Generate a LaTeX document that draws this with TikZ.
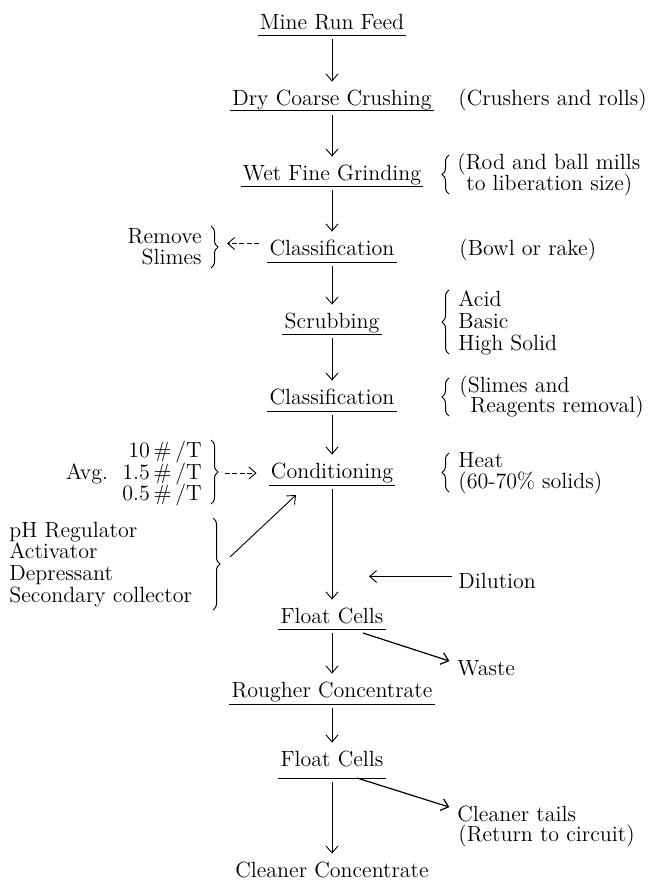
\documentclass[tikz,border=0pt]{standalone}
\usetikzlibrary{arrows.meta,decorations.pathreplacing}
\begin{document}
\begin{tikzpicture}[x=0.5pt,y=-0.5pt,
  every node/.style={font=\fontsize{11}{13}\selectfont, inner sep=0pt, text height=8pt, text depth=2.5pt},
  stage/.style={anchor=base},
  notel/.style={anchor=base west},
  noter/.style={anchor=base east},
  flow/.style={-{Straight Barb[length=3.5pt,width=6pt]}, line width=0.45pt},
  dflow/.style={flow, dash pattern=on 2.5pt off 1.2pt},
  ul/.style={line width=0.5pt},
  brc/.style={decorate, decoration={brace, amplitude=3.5pt}, line width=0.5pt},
]
\useasboundingbox (0,0) rectangle (652,884);

% main column
\node[stage] (s1) at (332,29) {Mine Run Feed};
\node[stage] (s2) at (332,105) {Dry Coarse Crushing};
\node[stage] (s3) at (332,180) {Wet Fine Grinding};
\node[stage] (s4) at (332,255) {Classification};
\node[stage] (s5) at (332,328) {Scrubbing};
\node[stage] (s6) at (332,404) {Classification};
\node[stage] (s7) at (332,478) {Conditioning};
\node[stage] (s8) at (332,623) {Float Cells};
\node[stage] (s9) at (332,697) {Rougher Concentrate};
\node[stage] (s10) at (332,766) {Float Cells};
\node[stage] (s11) at (332,877) {Cleaner Concentrate};

\foreach \n/\d in {s1/0.5pt,s2/0.2pt,s3/0.5pt,s4/0.8pt,s5/0.5pt,s6/0.8pt,s7/0.8pt,s8/0.5pt,s9/0.8pt,s10/3.5pt}{
  \draw[ul] ([xshift=-1pt,yshift=-\d]\n.south west) -- ([xshift=1pt,yshift=-\d]\n.south east);
  \coordinate (u\n) at ([yshift=-\d]\n.south);
}

\foreach \a/\b in {s1/s2,s2/s3,s3/s4,s4/s5,s5/s6,s6/s7,s7/s8,s8/s9,s9/s10,s10/s11}
  \draw[flow, shorten <=2pt, shorten >=3.5pt] (u\a) -- (\b.north);

% right notes
\node[notel] (n1) at (458,105) {(Crushers and rolls)};

\node[notel] (n2a) at (457,169) {(Rod and ball mills};
\node[notel] (n2b) at (466,190) {to liberation size)};
\draw[brc] (449,194) -- (449,155);

\node[notel] (n3) at (459,255) {(Bowl or rake)};

\node[notel] (n4a) at (458,306) {Acid};
\node[notel] (n4b) at (458,328) {Basic};
\node[notel] (n4c) at (458,350) {High Solid};
\draw[brc] (449,354) -- (449,290);

\node[notel] (n5a) at (459,392) {(Slimes and};
\node[notel] (n5b) at (470,412) {Reagents removal)};
\draw[brc] (449,416) -- (449,378);

\node[notel] (n6a) at (458,467) {Heat};
\node[notel] (n6b) at (458,488) {(60-70\% solids)};
\draw[brc] (449,492) -- (449,453);

% left notes
\node[noter] (l1a) at (202,243) {Remove};
\node[noter] (l1b) at (202,264) {Slimes};
\draw[brc] (211,226) -- (211,268);
\coordinate (l1tip) at (227,246);
\draw[dflow] ([xshift=-5pt,yshift=3pt]s4.west) coordinate (l1s) -- (l1s -| l1tip);

\node[noter] (d1) at (202,457) {10\,\#\,/T};
\node[noter] (d2) at (202,479) {Avg.\ \ 1.5\,\#\,/T};
\node[noter] (d3) at (202,500) {0.5\,\#\,/T};
\draw[brc] (211,440) -- (211,504);
\coordinate (dtip) at (225,473);
\draw[dflow, shorten >=7pt] (dtip) -- (dtip -| s7.west);

\node[notel] (p1) at (9,537) {pH Regulator};
\node[notel] (p2) at (9,558) {Activator};
\node[notel] (p3) at (9,580) {Depressant};
\node[notel] (p4) at (9,602) {Secondary collector};
\draw[brc] (213,518) -- (213,610);
\coordinate (ptip) at (230,557);
\coordinate (pend) at (296,495);
\draw[flow] (ptip) -- (pend);

% dilution
\node[notel] (dil) at (458,588) {Dilution};
\coordinate (dilend) at (369,581);
\draw[flow] ([xshift=-3pt,yshift=3pt]dil.west) coordinate (dils) -- (dils -| dilend);

% waste
\node[notel] (w) at (457,675) {Waste};
\coordinate (wstart) at (363,633);
\draw[flow, line width=0.6pt, shorten >=4pt] (wstart) -- ([yshift=3pt]w.west);

% cleaner tails
\node[notel] (c1) at (457,821) {Cleaner tails};
\node[notel] (c2) at (458,841) {(Return to circuit)};
\coordinate (cstart) at (357,778);
\draw[flow, line width=0.6pt, shorten >=4pt] (cstart) -- ([yshift=3pt]c1.west);
\end{tikzpicture}
\end{document}
